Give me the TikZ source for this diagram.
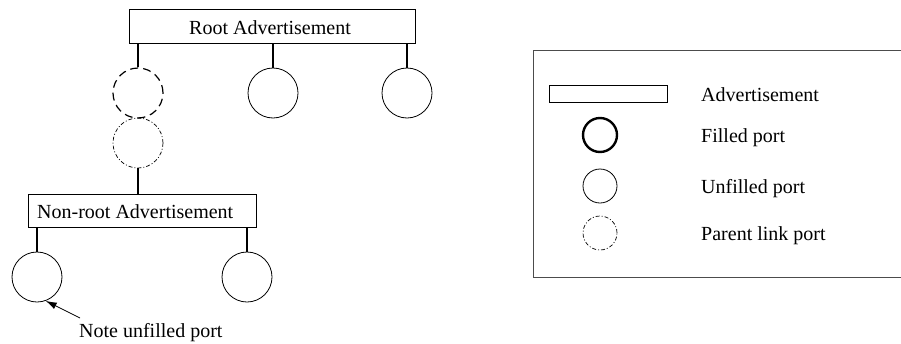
\documentclass[tikz,border=0pt]{standalone}
\usepackage{fontspec}
\setmainfont{Liberation Serif}
\usetikzlibrary{arrows.meta}
\begin{document}
\begin{tikzpicture}[x=1pt,y=-1pt,
  every node/.style={font=\fontsize{20}{24}\selectfont},
  advbox/.style={draw,line width=1pt,rectangle,inner sep=0pt},
  port/.style={draw,circle,minimum size=50,inner sep=0pt,line width=0.8pt},
  lport/.style={draw,circle,minimum size=34,inner sep=0pt,line width=0.8pt},
  fport/.style={lport,line width=2.4pt},
  dashport/.style={dash pattern=on 8pt off 5pt,line width=1.2pt},
  parentport/.style={dash pattern=on 4pt off 2pt on 1pt off 2pt,line width=0.7pt},
  leg/.style={line width=1.2pt},
  lbl/.style={anchor=base west,inner sep=0pt}]
\useasboundingbox (0,0) rectangle (901,343);
% root
\node[advbox,minimum width=286,minimum height=34] (root) at (272,26) {};
\node[anchor=base,inner sep=0pt] (roott) at (270,34) {Root Advertisement};
\coordinate (r1) at (138,43);
\coordinate (r2) at (273,43);
\coordinate (r3) at (407,43);
\node[port,dashport] (d1) at (138,93) {};
\node[port] (c2) at (273,93) {};
\node[port] (c3) at (407,93) {};
\draw[leg] (r1) -- (d1.north);
\draw[leg] (r2) -- (c2.north);
\draw[leg] (r3) -- (c3.north);
\node[port,parentport] (p1) at (138,143) {};
% non-root
\node[advbox,minimum width=228,minimum height=33] (nr) at (142,210.5) {};
\node[lbl] (nrt) at (37,218) {Non-root Advertisement};
\draw[leg] (p1.south) -- (p1.south |- nr.north);
\coordinate (n1) at (37,227);
\coordinate (n2) at (247,227);
\node[port] (c4) at (37,277) {};
\node[port] (c5) at (247,277) {};
\draw[leg] (n1) -- (c4.north);
\draw[leg] (n2) -- (c5.north);
\node[lbl] (note) at (79,337) {Note unfilled port};
\coordinate (nt) at (80,318);
\draw[-{Latex[length=11pt,width=7pt]},line width=0.8pt] (nt) -- (c4.-70);
% legend
\draw[line width=1pt,black!70] (901,50) -- (533,50) -- (533,277) -- (901,277);
\node[advbox,minimum width=118,minimum height=17] (la) at (608,93.5) {};
\node[lbl] (lat) at (701,101) {Advertisement};
\node[fport] (lf) at (600,135) {};
\node[lbl] (lft) at (701,142) {Filled port};
\node[lport] (lu) at (600,186) {};
\node[lbl] (lut) at (701,193) {Unfilled port};
\node[lport,parentport] (lp) at (600,233) {};
\node[lbl] (lpt) at (701,240) {Parent link port};
\end{tikzpicture}
\end{document}
